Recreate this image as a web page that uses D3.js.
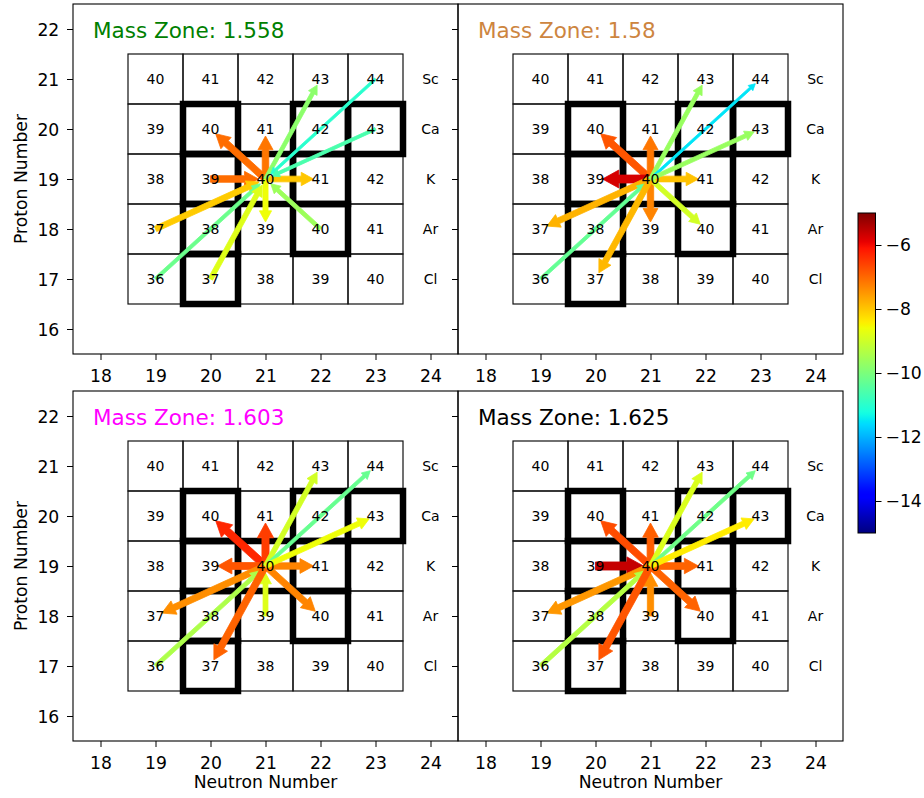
<!DOCTYPE html>
<html><head><meta charset="utf-8">
<script src="https://cdn.jsdelivr.net/npm/d3@7"></script>
<style>body{margin:0;background:#fff}svg{display:block}text{font-family:"DejaVu Sans",sans-serif}</style>
</head><body><svg id="c" width="924" height="798"></svg>
<script>
// ---- data ----
const gridN = [19, 20, 21, 22, 23];
const gridZ = [17, 18, 19, 20, 21];
const elements = ["Cl", "Ar", "K", "Ca", "Sc"];
const stableN = [20, 20, 22, 20, 21, 22, 20, 22, 23];
const stableZ = [17, 18, 18, 19, 19, 19, 20, 20, 20];
const centerN = 21, centerZ = 19;
const targetN = [20, 21, 22, 20, 21, 22, 19, 19, 20, 22, 23, 23];
const targetZ = [20, 20, 19, 19, 18, 18, 18, 17, 17, 21, 21, 20];
const zoneTitles = ["Mass Zone: 1.558", "Mass Zone: 1.58", "Mass Zone: 1.603", "Mass Zone: 1.625"];
const zoneColors = ["#008000", "#CD853F", "#FF00FF", "#000000"];
// log rate values per target
const zone1Values = [-7.05, -7.15, -8.0, -7.05, -8.6, -9.6, -8.05, -10.2, -8.8, -9.8, -11.0, -10.6];
const zone2Values = [-6.8, -7.15, -7.95, -5.75, -7.3, -8.95, -7.8, -10.3, -7.85, -9.65, -11.5, -9.65];
const zone3Values = [-6.3, -6.55, -7.3, -6.8, -8.8, -7.3, -7.4, -9.4, -6.95, -8.95, -10.25, -8.6];
const zone4Values = [-6.7, -6.9, -6.95, -5.6, -7.4, -6.95, -7.5, -9.3, -6.8, -8.85, -10.15, -8.4];
// 1 = outward from centre, -1 = inward toward centre
const zone1Dir = [1, 1, 1, -1, 1, -1, -1, -1, -1, 1, -1, -1];
const zone2Dir = [1, 1, 1, 1, 1, 1, 1, -1, 1, 1, 1, 1];
const zone3Dir = [1, 1, 1, 1, -1, 1, 1, -1, 1, 1, 1, 1];
const zone4Dir = [1, 1, 1, -1, -1, 1, 1, -1, 1, 1, 1, 1];
const xTicks = [18, 19, 20, 21, 22, 23, 24];
const yTicks = [16, 17, 18, 19, 20, 21, 22];
const cbTicks = [-6, -8, -10, -12, -14];
const cbDomain = [-15, -5];

const zoneValues = [zone1Values, zone2Values, zone3Values, zone4Values];
const zoneDirs = [zone1Dir, zone2Dir, zone3Dir, zone4Dir];

// matplotlib jet
function jet(t) {
  t = Math.max(0, Math.min(1, t));
  function seg(pts) {
    for (let i = 1; i < pts.length; i++) {
      if (t <= pts[i][0]) {
        const a = pts[i - 1], b = pts[i];
        return a[1] + (b[1] - a[1]) * (t - a[0]) / (b[0] - a[0]);
      }
    }
    return pts[pts.length - 1][1];
  }
  const r = seg([[0, 0], [0.35, 0], [0.66, 1], [0.89, 1], [1, 0.5]]);
  const g = seg([[0, 0], [0.125, 0], [0.375, 1], [0.64, 1], [0.91, 0], [1, 0]]);
  const b = seg([[0, 0.5], [0.11, 1], [0.34, 1], [0.65, 0], [1, 0]]);
  return d3.rgb(r * 255, g * 255, b * 255).formatHex();
}
const cNorm = d3.scaleLinear().domain(cbDomain).range([0, 1]);
const colorOf = v => jet(cNorm(v));
const widthOf = d3.scaleLinear().domain([-10.5, -5.6]).range([3.2, 8.1]);

const svg = d3.select("#c");
const FS_TICK = 17.2;
const panels = [
  {x0: 73, x1: 458, y0: 4, y1: 354, showY: true, showXLab: false},
  {x0: 458, x1: 843, y0: 4, y1: 354, showY: false, showXLab: false},
  {x0: 73, x1: 458, y0: 391, y1: 741, showY: true, showXLab: true},
  {x0: 458, x1: 843, y0: 391, y1: 741, showY: false, showXLab: true}
];

function arrowPath(sx, sy, tx, ty, w) {
  const dx = tx - sx, dy = ty - sy, L = Math.hypot(dx, dy);
  const ux = dx / L, uy = dy / L, nx = -uy, ny = ux;
  const hw = 2 * w + 2, hl = 1.8 * w + 2;
  const bx = tx - ux * hl, by = ty - uy * hl;
  const p = [
    [sx + nx * w / 2, sy + ny * w / 2],
    [bx + nx * w / 2, by + ny * w / 2],
    [bx + nx * hw / 2, by + ny * hw / 2],
    [tx, ty],
    [bx - nx * hw / 2, by - ny * hw / 2],
    [bx - nx * w / 2, by - ny * w / 2],
    [sx - nx * w / 2, sy - ny * w / 2]
  ];
  return "M" + p.map(q => q[0].toFixed(2) + "," + q[1].toFixed(2)).join("L") + "Z";
}

panels.forEach((P, pi) => {
  const x = d3.scaleLinear().domain([17.5, 24.5]).range([P.x0, P.x1]);
  const y = d3.scaleLinear().domain([15.5, 22.5]).range([P.y1, P.y0]);
  const g = svg.append("g");
  const cw = x(1) - x(0), ch = y(0) - y(1);

  // thin grid cells
  gridZ.forEach(z => gridN.forEach(n => {
    g.append("rect").attr("x", x(n - 0.5)).attr("y", y(z + 0.5))
      .attr("width", cw).attr("height", ch)
      .attr("fill", "none").attr("stroke", "#111").attr("stroke-width", 1.2);
  }));
  // thick stable outlines
  stableN.forEach((n, i) => {
    const z = stableZ[i];
    g.append("rect").attr("x", x(n - 0.5)).attr("y", y(z + 0.5))
      .attr("width", cw).attr("height", ch)
      .attr("fill", "none").attr("stroke", "#000").attr("stroke-width", 6.5)
      .attr("stroke-linejoin", "miter");
  });
  // arrows
  const vals = zoneValues[pi], dirs = zoneDirs[pi];
  targetN.forEach((n, i) => {
    const z = targetZ[i];
    let sx, sy, tx, ty;
    if (dirs[i] > 0) { sx = x(centerN); sy = y(centerZ); tx = x(n); ty = y(z); }
    else { sx = x(n); sy = y(z); tx = x(centerN); ty = y(centerZ); }
    const L = Math.hypot(tx - sx, ty - sy);
    const sh = 7;
    tx = tx - (tx - sx) / L * sh; ty = ty - (ty - sy) / L * sh;
    const w = Math.max(2.5, widthOf(vals[i]));
    g.append("path").attr("d", arrowPath(sx, sy, tx, ty, w))
      .attr("fill", colorOf(vals[i])).attr("stroke", colorOf(vals[i])).attr("stroke-width", 0.8);
  });
  // cell labels
  gridZ.forEach(z => gridN.forEach(n => {
    g.append("text").attr("x", x(n)).attr("y", y(z)).attr("dy", "0.36em")
      .attr("text-anchor", "middle").attr("font-size", 14).text(n + z);
  }));
  gridZ.forEach((z, i) => {
    g.append("text").attr("x", x(24)).attr("y", y(z)).attr("dy", "0.36em")
      .attr("text-anchor", "middle").attr("font-size", 14).text(elements[i]);
  });
  // title
  g.append("text").attr("x", P.x0 + 0.052 * (P.x1 - P.x0)).attr("y", P.y0 + 34.3)
    .attr("font-size", 21.5).attr("fill", zoneColors[pi]).text(zoneTitles[pi]);

  // axes
  const ax = g.append("g").attr("transform", `translate(0,${P.y1})`)
    .call(d3.axisBottom(x).tickValues(xTicks).tickSize(6).tickFormat(d3.format("d")));
  ax.selectAll("text").attr("y", 28).attr("dy", 0).attr("font-size", FS_TICK).attr("fill", "#000");
  const ay = g.append("g").attr("transform", `translate(${P.x0},0)`)
    .call(d3.axisLeft(y).tickValues(yTicks).tickSize(6).tickPadding(7.7).tickFormat(d3.format("d")));
  ay.selectAll("text").attr("font-size", FS_TICK).attr("fill", "#000").attr("dy", "0.35em");
  if (!P.showY) ay.selectAll("text").remove();
  [ax, ay].forEach(a => { a.select(".domain").remove(); a.selectAll("line").attr("stroke", "#000").attr("stroke-width", 1); });
  g.append("rect").attr("x", P.x0).attr("y", P.y0).attr("width", P.x1 - P.x0).attr("height", P.y1 - P.y0)
    .attr("fill", "none").attr("stroke", "#000").attr("stroke-width", 1.1);

  if (P.showY) {
    g.append("text").attr("transform", `translate(26.5,${(P.y0 + P.y1) / 2}) rotate(-90)`)
      .attr("text-anchor", "middle").attr("font-size", FS_TICK).text("Proton Number");
  }
  if (P.showXLab) {
    g.append("text").attr("x", (P.x0 + P.x1) / 2).attr("y", 787.5)
      .attr("text-anchor", "middle").attr("font-size", FS_TICK).text("Neutron Number");
  }
});

// colorbar
const cb = {x0: 858, x1: 875.5, y0: 213, y1: 533};
const cy = d3.scaleLinear().domain(cbDomain).range([cb.y1, cb.y0]);
const defs = svg.append("defs");
const lg = defs.append("linearGradient").attr("id", "jetg").attr("x1", 0).attr("y1", 1).attr("x2", 0).attr("y2", 0);
d3.range(0, 1.0001, 0.01).forEach(t => lg.append("stop").attr("offset", t).attr("stop-color", jet(t)));
svg.append("rect").attr("x", cb.x0).attr("y", cb.y0).attr("width", cb.x1 - cb.x0).attr("height", cb.y1 - cb.y0)
  .attr("fill", "url(#jetg)").attr("stroke", "#000").attr("stroke-width", 1);
const cax = svg.append("g").attr("transform", `translate(${cb.x1},0)`)
  .call(d3.axisRight(cy).tickValues(cbTicks).tickSize(6).tickPadding(4));
cax.select(".domain").remove();
cax.selectAll("line").attr("stroke", "#000");
cax.selectAll("text").attr("font-size", FS_TICK).attr("fill", "#000");
</script></body></html>
